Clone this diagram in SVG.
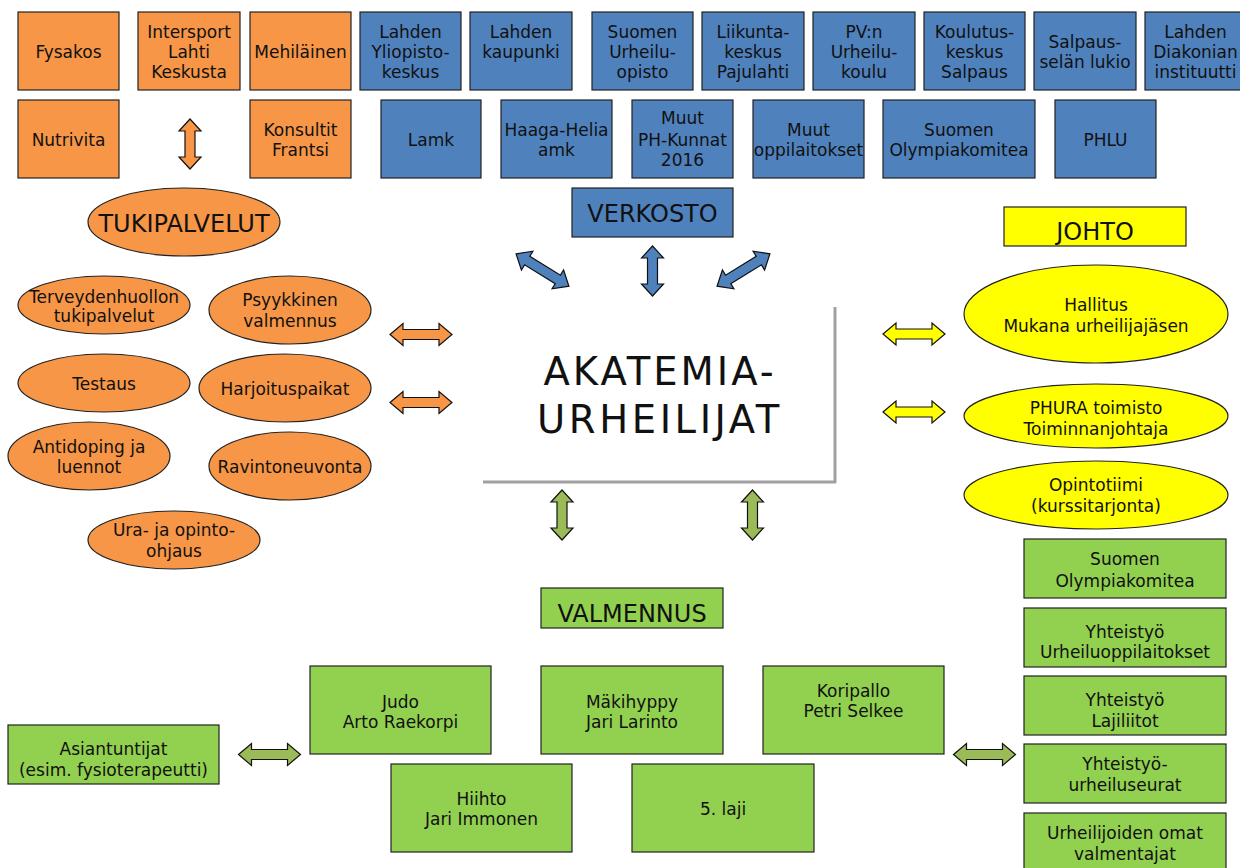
<svg xmlns="http://www.w3.org/2000/svg" xmlns:xlink="http://www.w3.org/1999/xlink" width="1240" height="868" viewBox="0 0 1240 868">
<style>
.t{font-family:"DejaVu Sans","Noto Sans",sans-serif;font-size:17px;text-anchor:middle;fill:#111}
.big{font-size:24px}
.o{fill:#F79646;stroke:#222;stroke-width:1.2}
.b{fill:#4F81BD;stroke:#222;stroke-width:1.2}
.g{fill:#92D050;stroke:#222;stroke-width:1.2}
.y{fill:#FFFF00;stroke:#222;stroke-width:1.2}
.ao{fill:#F79646;stroke:#111;stroke-width:1.2}
.ab{fill:#4F81BD;stroke:#111;stroke-width:1.2}
.ay{fill:#FFFF00;stroke:#111;stroke-width:1.2}
.ag{fill:#9BBB59;stroke:#111;stroke-width:1.2}
</style>
<defs>
<path id="dbl62" d="M-31,0 L-18,-11 L-18,-5 L18,-5 L18,-11 L31,0 L18,11 L18,5 L-18,5 L-18,11 Z"/>
<path id="dbl50" d="M-25,0 L-13,-11 L-13,-5 L13,-5 L13,-11 L25,0 L13,11 L13,5 L-13,5 L-13,11 Z"/>
</defs>
<rect width="1240" height="868" fill="#fff"/>

<!-- Row 1 -->
<g id="fysakos"><rect class="o" x="18" y="12" width="101" height="78"/><text class="t" x="68.5" y="58">Fysakos</text></g>
<g id="intersport"><rect class="o" x="138" y="12" width="102" height="78"/><text class="t" x="189" y="38">Intersport</text><text class="t" x="189" y="58">Lahti</text><text class="t" x="189" y="78">Keskusta</text></g>
<g id="mehilainen"><rect class="o" x="250" y="12" width="101" height="78"/><text class="t" x="300.5" y="58">Mehiläinen</text></g>
<g id="lahden-yliopisto"><rect class="b" x="360" y="12" width="101" height="78"/><text class="t" x="410.5" y="38">Lahden</text><text class="t" x="410.5" y="58">Yliopisto-</text><text class="t" x="410.5" y="78">keskus</text></g>
<g id="lahden-kaupunki"><rect class="b" x="470" y="12" width="102" height="78"/><text class="t" x="521" y="38">Lahden</text><text class="t" x="521" y="58">kaupunki</text></g>
<g id="suomen-urheiluopisto"><rect class="b" x="592" y="12" width="101" height="78"/><text class="t" x="642.5" y="38">Suomen</text><text class="t" x="642.5" y="58">Urheilu-</text><text class="t" x="642.5" y="78">opisto</text></g>
<g id="pajulahti"><rect class="b" x="702" y="12" width="102" height="78"/><text class="t" x="753" y="38">Liikunta-</text><text class="t" x="753" y="58">keskus</text><text class="t" x="753" y="78">Pajulahti</text></g>
<g id="pvn-urheilukoulu"><rect class="b" x="813" y="12" width="102" height="78"/><text class="t" x="864" y="38">PV:n</text><text class="t" x="864" y="58">Urheilu-</text><text class="t" x="864" y="78">koulu</text></g>
<g id="salpaus"><rect class="b" x="924" y="12" width="101" height="78"/><text class="t" x="974.5" y="38">Koulutus-</text><text class="t" x="974.5" y="58">keskus</text><text class="t" x="974.5" y="78">Salpaus</text></g>
<g id="salpausselan-lukio"><rect class="b" x="1034" y="12" width="102" height="78"/><text class="t" x="1085" y="48">Salpaus-</text><text class="t" x="1085" y="68">selän lukio</text></g>
<g id="diakonia"><rect class="b" x="1145" y="12" width="101" height="78"/><text class="t" x="1195.5" y="38">Lahden</text><text class="t" x="1195.5" y="58">Diakonian</text><text class="t" x="1195.5" y="78">instituutti</text></g>

<!-- Row 2 -->
<g id="nutrivita"><rect class="o" x="18" y="100" width="101" height="78"/><text class="t" x="68.5" y="146">Nutrivita</text></g>
<g id="konsultit"><rect class="o" x="250" y="100" width="101" height="78"/><text class="t" x="300.5" y="136">Konsultit</text><text class="t" x="300.5" y="156">Frantsi</text></g>
<g id="lamk"><rect class="b" x="381" y="100" width="100" height="78"/><text class="t" x="431" y="146">Lamk</text></g>
<g id="haaga-helia"><rect class="b" x="501" y="100" width="111" height="78"/><text class="t" x="556.5" y="136">Haaga-Helia</text><text class="t" x="556.5" y="156">amk</text></g>
<g id="ph-kunnat"><rect class="b" x="632" y="100" width="101" height="78"/><text class="t" x="682.5" y="124">Muut</text><text class="t" x="682.5" y="146">PH-Kunnat</text><text class="t" x="682.5" y="166">2016</text></g>
<g id="muut-oppilaitokset"><rect class="b" x="753" y="100" width="111" height="78"/><text class="t" x="808.5" y="136">Muut</text><text class="t" x="808.5" y="156">oppilaitokset</text></g>
<g id="olympiakomitea-top"><rect class="b" x="883" y="100" width="152" height="78"/><text class="t" x="959" y="136">Suomen</text><text class="t" x="959" y="156">Olympiakomitea</text></g>
<g id="phlu"><rect class="b" x="1055" y="100" width="101" height="78"/><text class="t" x="1105.5" y="146">PHLU</text></g>

<!-- Headers -->
<g id="verkosto"><rect class="b" x="572" y="188" width="161" height="49"/><text class="t big" x="652.5" y="222">VERKOSTO</text></g>
<g id="tukipalvelut"><ellipse class="o" cx="184" cy="222" rx="96" ry="34"/><text class="t big" x="184" y="232">TUKIPALVELUT</text></g>
<g id="johto"><rect class="y" x="1004" y="207" width="182" height="39"/><text class="t big" x="1095" y="240">JOHTO</text></g>
<g id="valmennus"><rect class="g" x="541" y="588" width="182" height="40"/><text class="t big" x="632" y="622">VALMENNUS</text></g>

<!-- Center -->
<g id="akatemia">
<rect x="483" y="305" width="351" height="176" fill="#fff"/>
<line x1="835" y1="307" x2="835" y2="483" stroke="#A0A0A0" stroke-width="3"/>
<line x1="483" y1="482" x2="836" y2="482" stroke="#A0A0A0" stroke-width="3"/>
<text class="t" x="660" y="385" style="font-size:38.5px;letter-spacing:3px">AKATEMIA-</text>
<text class="t" x="660" y="433" style="font-size:38.5px;letter-spacing:3.6px">URHEILIJAT</text>
</g>

<!-- Support ellipses -->
<g id="terveydenhuolto"><ellipse class="o" cx="104" cy="305" rx="86" ry="29"/><text class="t" x="104" y="303">Terveydenhuollon</text><text class="t" x="104" y="322">tukipalvelut</text></g>
<g id="psyykkinen"><ellipse class="o" cx="290" cy="310" rx="81" ry="34"/><text class="t" x="290" y="306">Psyykkinen</text><text class="t" x="290" y="327">valmennus</text></g>
<g id="testaus"><ellipse class="o" cx="104" cy="383" rx="86" ry="29"/><text class="t" x="104" y="390">Testaus</text></g>
<g id="harjoituspaikat"><ellipse class="o" cx="285" cy="388" rx="86" ry="34"/><text class="t" x="285" y="395">Harjoituspaikat</text></g>
<g id="antidoping"><ellipse class="o" cx="89" cy="456" rx="81" ry="34"/><text class="t" x="89" y="453">Antidoping ja</text><text class="t" x="89" y="473">luennot</text></g>
<g id="ravintoneuvonta"><ellipse class="o" cx="290" cy="466" rx="81" ry="34"/><text class="t" x="290" y="473">Ravintoneuvonta</text></g>
<g id="ura"><ellipse class="o" cx="174" cy="540" rx="86" ry="29"/><text class="t" x="174" y="536">Ura- ja opinto-</text><text class="t" x="174" y="557">ohjaus</text></g>

<!-- Johto ellipses -->
<g id="hallitus"><ellipse class="y" cx="1096" cy="314" rx="132" ry="49"/><text class="t" x="1096" y="311">Hallitus</text><text class="t" x="1096" y="332">Mukana urheilijajäsen</text></g>
<g id="phura"><ellipse class="y" cx="1096" cy="416" rx="132" ry="32"/><text class="t" x="1096" y="414">PHURA toimisto</text><text class="t" x="1096" y="435">Toiminnanjohtaja</text></g>
<g id="opintotiimi"><ellipse class="y" cx="1096" cy="495" rx="132" ry="34"/><text class="t" x="1096" y="491">Opintotiimi</text><text class="t" x="1096" y="512">(kurssitarjonta)</text></g>

<!-- Coaching boxes -->
<g id="asiantuntijat"><rect class="g" x="8" y="725" width="211" height="59"/><text class="t" x="113.5" y="755">Asiantuntijat</text><text class="t" x="113.5" y="776">(esim. fysioterapeutti)</text></g>
<g id="judo"><rect class="g" x="310" y="666" width="181" height="88"/><text class="t" x="400.5" y="708">Judo</text><text class="t" x="400.5" y="728">Arto Raekorpi</text></g>
<g id="makihyppy"><rect class="g" x="541" y="666" width="182" height="88"/><text class="t" x="632" y="708">Mäkihyppy</text><text class="t" x="632" y="728">Jari Larinto</text></g>
<g id="koripallo"><rect class="g" x="763" y="666" width="181" height="88"/><text class="t" x="853.5" y="697">Koripallo</text><text class="t" x="853.5" y="717">Petri Selkee</text></g>
<g id="hiihto"><rect class="g" x="391" y="764" width="181" height="88"/><text class="t" x="481.5" y="805">Hiihto</text><text class="t" x="481.5" y="825">Jari Immonen</text></g>
<g id="laji5"><rect class="g" x="632" y="764" width="182" height="88"/><text class="t" x="723" y="815">5. laji</text></g>

<g id="olympiakomitea"><rect class="g" x="1024" y="539" width="202" height="59"/><text class="t" x="1125" y="565">Suomen</text><text class="t" x="1125" y="587">Olympiakomitea</text></g>
<g id="urheiluoppilaitokset"><rect class="g" x="1024" y="608" width="202" height="59"/><text class="t" x="1125" y="638">Yhteistyö</text><text class="t" x="1125" y="658">Urheiluoppilaitokset</text></g>
<g id="lajiliitot"><rect class="g" x="1024" y="676" width="202" height="59"/><text class="t" x="1125" y="706">Yhteistyö</text><text class="t" x="1125" y="727">Lajiliitot</text></g>
<g id="urheiluseurat"><rect class="g" x="1024" y="744" width="202" height="59"/><text class="t" x="1125" y="770">Yhteistyö-</text><text class="t" x="1125" y="791">urheiluseurat</text></g>
<g id="omat-valmentajat"><rect class="g" x="1024" y="813" width="202" height="60"/><text class="t" x="1125" y="839">Urheilijoiden omat</text><text class="t" x="1125" y="860">valmentajat</text></g>

<!-- Connectors -->
<g id="connectors">
<use xlink:href="#dbl50" class="ao" transform="translate(190,144) rotate(90)"/>
<use xlink:href="#dbl62" class="ao" transform="translate(421,334.5)"/>
<use xlink:href="#dbl62" class="ao" transform="translate(421,402.5)"/>
<use xlink:href="#dbl62" class="ab" transform="translate(542.5,270) rotate(31.5)"/>
<use xlink:href="#dbl50" class="ab" transform="translate(652.5,271) rotate(90)"/>
<use xlink:href="#dbl62" class="ab" transform="translate(743.5,270) rotate(-31.5)"/>
<use xlink:href="#dbl62" class="ay" transform="translate(914,334)"/>
<use xlink:href="#dbl62" class="ay" transform="translate(914,412)"/>
<use xlink:href="#dbl50" class="ag" transform="translate(562,515) rotate(90)"/>
<use xlink:href="#dbl50" class="ag" transform="translate(752.5,515) rotate(90)"/>
<use xlink:href="#dbl62" class="ag" transform="translate(269.5,754.5)"/>
<use xlink:href="#dbl62" class="ag" transform="translate(984.5,754.5)"/>
</g>
</svg>
